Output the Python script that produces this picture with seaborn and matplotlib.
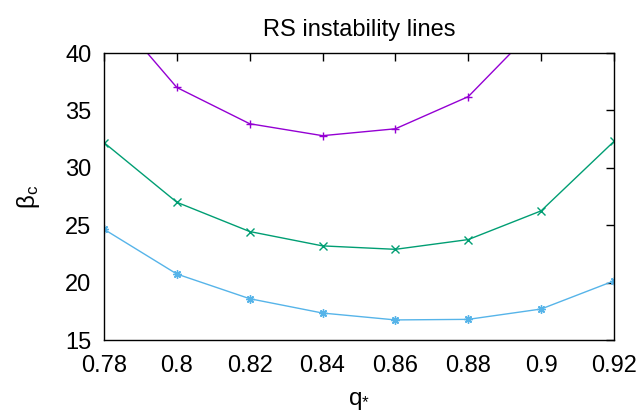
import matplotlib
matplotlib.use('Agg')
import matplotlib.pyplot as plt
import seaborn as sns
import pandas as pd

# data
q_star = [0.78, 0.80, 0.82, 0.84, 0.86, 0.88, 0.90, 0.92]
beta_top = [44.4, 37.0, 33.84, 32.8, 33.4, 36.2, 42.7, None]
beta_mid = [32.2, 27.0, 24.45, 23.2, 22.9, 23.75, 26.25, 32.3]
beta_low = [24.65, 20.75, 18.6, 17.35, 16.75, 16.8, 17.7, 20.15]

x_ticks = [0.78, 0.80, 0.82, 0.84, 0.86, 0.88, 0.90, 0.92]
x_tick_labels = ['0.78', '0.8', '0.82', '0.84', '0.86', '0.88', '0.9', '0.92']
y_ticks = [15, 20, 25, 30, 35, 40]

sns.set_style('white')
plt.rcParams['font.family'] = ['Liberation Sans', 'DejaVu Sans']
plt.rcParams['mathtext.fontset'] = 'custom'
plt.rcParams['mathtext.rm'] = 'Liberation Sans'
plt.rcParams['mathtext.it'] = 'Liberation Sans'
plt.rcParams['text.color'] = 'black'
plt.rcParams['axes.labelcolor'] = 'black'

fig = plt.figure(figsize=(6.41, 4.11), dpi=100)
ax = fig.add_axes([0.1622, 0.1727, 0.7956, 0.6983])

series = [
    (beta_top, '#9400d3', '+'),
    (beta_mid, '#009e73', 'x'),
    (beta_low, '#56b4e9', (8, 2, 0)),
]
for values, color, marker in series:
    df = pd.DataFrame({'q': q_star, 'beta': values}).dropna()
    sns.lineplot(data=df, x='q', y='beta', ax=ax, color=color, marker=marker,
                 markersize=6, markeredgewidth=1.0, markeredgecolor=color,
                 linewidth=1.0, clip_on=True)

ax.set_xlim(0.78, 0.92)
ax.set_ylim(15, 40)
ax.set_xticks(x_ticks)
ax.set_xticklabels(x_tick_labels)
ax.set_yticks(y_ticks)
ax.tick_params(direction='in', length=6, width=1, top=True, right=True,
               labelsize=17, colors='black')
ax.tick_params(axis='x', pad=11)
ax.tick_params(axis='y', pad=9)
for sp in ax.spines.values():
    sp.set_visible(True)
    sp.set_linewidth(1.0)
    sp.set_color('black')

ax.set_title('RS instability lines', fontsize=17, pad=12, color='black')
ax.set_xlabel(r'q$_{*}$', fontsize=17.5, labelpad=9)
ax.set_ylabel(r'β$_\mathrm{c}$', fontsize=17.5, labelpad=17)

fig.savefig('out.png', dpi=100)
